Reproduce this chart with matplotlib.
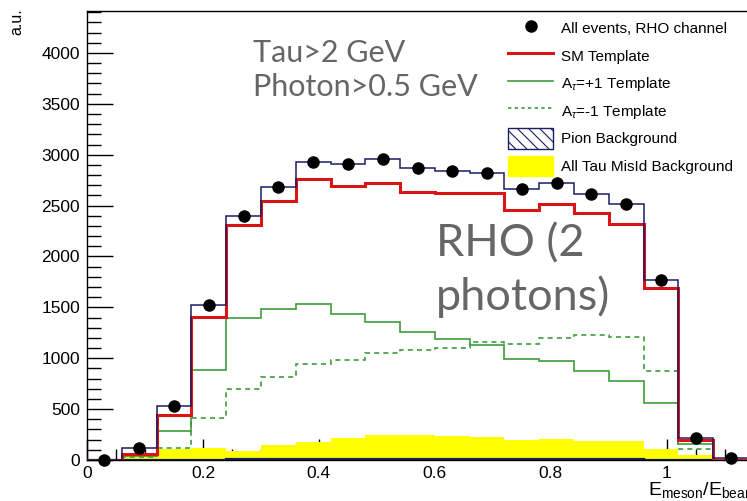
import matplotlib
matplotlib.use("Agg")
import matplotlib.pyplot as plt
import numpy as np
from matplotlib.lines import Line2D
from matplotlib.patches import Patch
from matplotlib.ticker import MultipleLocator

plt.rcParams["font.family"] = ["Liberation Sans", "DejaVu Sans"]
plt.rcParams["mathtext.fontset"] = "custom"
plt.rcParams["mathtext.rm"] = "Liberation Sans"
plt.rcParams["mathtext.it"] = "Liberation Sans:italic"
plt.rcParams["hatch.linewidth"] = 0.8

# 19 bins of E_meson/E_beam, width 0.06
bin_edges = [0.00, 0.06, 0.12, 0.18, 0.24, 0.30, 0.36, 0.42, 0.48, 0.54,
             0.60, 0.66, 0.72, 0.78, 0.84, 0.90, 0.96, 1.02, 1.08, 1.14]

all_events = [0, 115, 527, 1523, 2397, 2685, 2924, 2904, 2954, 2865,
              2842, 2820, 2659, 2718, 2610, 2512, 1768, 219, 17]
sm_template = [0, 55, 440, 1408, 2308, 2544, 2760, 2695, 2721, 2630,
               2620, 2620, 2456, 2512, 2429, 2315, 1687, 196, 0]
a_plus_template = [0, 40, 285, 884, 1392, 1483, 1532, 1431, 1356, 1254,
                   1189, 1127, 989, 972, 877, 779, 563, 160, 0]
a_minus_template = [0, 25, 115, 409, 701, 815, 943, 982, 1054, 1080,
                    1097, 1156, 1136, 1202, 1231, 1211, 877, 105, 0]
pion_background = [0, 2, 3, 4, 5, 5, 5, 5, 5, 5,
                   5, 5, 5, 5, 5, 5, 4, 2, 0]
misid_background = [0, 55, 110, 115, 90, 150, 180, 213, 249, 249,
                    239, 226, 200, 209, 183, 183, 108, 45, 0]

x_tick_values = [0, 0.2, 0.4, 0.6, 0.8, 1.0]
x_tick_labels = ["0", "0.2", "0.4", "0.6", "0.8", "1"]
y_tick_values = [0, 500, 1000, 1500, 2000, 2500, 3000, 3500, 4000]

edges = np.array(bin_edges)
centers = 0.5 * (edges[:-1] + edges[1:])

NAVY = "#1c1c64"
RED = "#d81414"
GREEN = "#3c9c3c"
YELLOW = "#ffff00"

W, H = 747, 501
fig = plt.figure(figsize=(W / 100, H / 100), dpi=100)
ax = fig.add_axes([87 / W, 41 / H, 661 / W, 449.3 / H])
ax.set_axisbelow(True)

ax.stairs(misid_background, edges, fill=True, facecolor=YELLOW,
          edgecolor="none", linewidth=0, zorder=1)
ax.stairs(pion_background, edges, fill=True, facecolor="none",
          edgecolor=NAVY, hatch="\\\\\\", linewidth=1.6, zorder=2)
ax.stairs(a_minus_template, edges, color=GREEN, linewidth=1.2,
          linestyle=(0, (3, 2.5)), zorder=3)
ax.stairs(a_plus_template, edges, color=GREEN, linewidth=1.2, zorder=3)
ax.stairs(sm_template, edges, color=RED, linewidth=2.2, zorder=4)
ax.stairs(all_events, edges, color=NAVY, linewidth=1.1, zorder=5)
ax.plot(centers, all_events, "o", color="black", markersize=8, zorder=6,
        clip_on=False)

ax.set_xlim(0, 1.14)
ax.set_ylim(0, 4415)
ax.set_xticks(x_tick_values)
ax.set_xticklabels(x_tick_labels)
ax.set_yticks(y_tick_values)
ax.xaxis.set_minor_locator(MultipleLocator(0.05))
ax.yaxis.set_minor_locator(MultipleLocator(100))
ax.tick_params(axis="both", which="both", direction="in", labelsize=12.5,
               width=1, color="black")
ax.tick_params(axis="x", which="major", length=15, pad=4)
ax.tick_params(axis="x", which="minor", length=8)
ax.tick_params(axis="y", which="major", length=19, pad=5)
ax.tick_params(axis="y", which="minor", length=10)
for side in ["top", "left", "bottom"]:
    ax.spines[side].set_linewidth(1.0)
ax.spines["right"].set_visible(False)

fig.text(17 / W, 1 - 22 / H, "a.u.", rotation=90, ha="center", va="center",
         fontsize=11.5)
fig.text(757 / W, 1 - 495 / H,
         r"E$_{\mathrm{meson}}$/E$_{\mathrm{beam}}$",
         ha="right", va="baseline", fontsize=14)

handles = [
    Line2D([], [], marker="o", color="black", linestyle="none", markersize=8),
    Line2D([], [], color=RED, linewidth=2.2),
    Line2D([], [], color=GREEN, linewidth=1.2),
    Line2D([], [], color=GREEN, linewidth=1.2, linestyle=(0, (2, 2))),
    Patch(facecolor="white", edgecolor=NAVY, hatch="\\\\\\", linewidth=1),
    Patch(facecolor=YELLOW, edgecolor=YELLOW),
]
labels = [
    "All events, RHO channel",
    "SM Template",
    r"A$_{\tau}$=+1 Template",
    r"A$_{\tau}$=-1 Template",
    "Pion Background",
    "All Tau MisId Background",
]
fig.legend(handles, labels, loc="upper left",
           bbox_to_anchor=(508 / W, 1 - 18 / H), frameon=False, fontsize=11,
           handlelength=2.95, handleheight=1.7, handletextpad=0.5,
           labelspacing=0.45, borderpad=0, borderaxespad=0)

GRAY = "#666666"
fig.text(253 / W, 1 - 62 / H, "Tau>2 GeV", fontsize=22, family="Lato",
         color=GRAY, va="baseline")
fig.text(253 / W, 1 - 96 / H, "Photon>0.5 GeV", fontsize=22, family="Lato",
         color=GRAY, va="baseline")
fig.text(436 / W, 1 - 256 / H, "RHO (2", fontsize=32.5, family="Lato",
         color=GRAY, va="baseline")
fig.text(436 / W, 1 - 310 / H, "photons)", fontsize=32.5, family="Lato",
         color=GRAY, va="baseline")

fig.savefig("out.png", dpi=100)
